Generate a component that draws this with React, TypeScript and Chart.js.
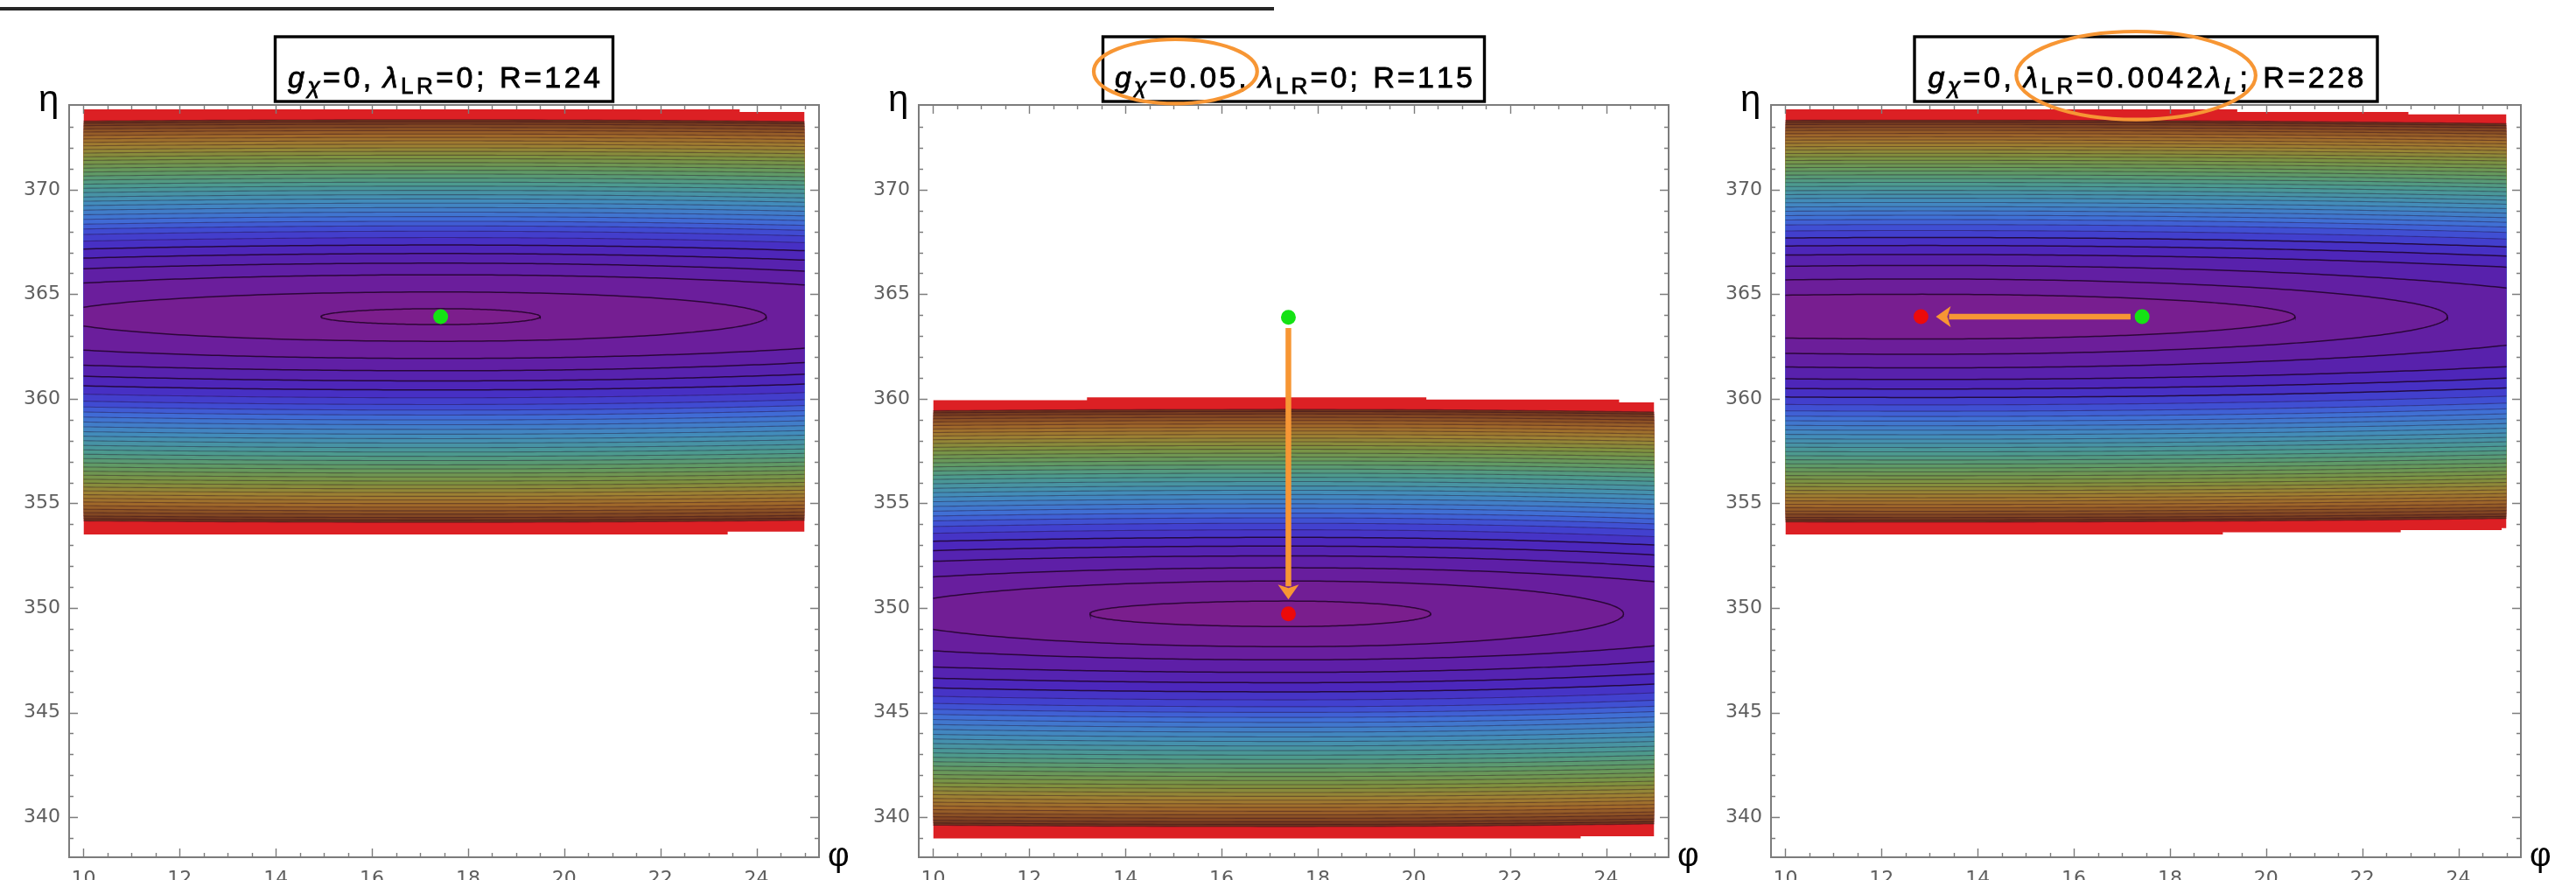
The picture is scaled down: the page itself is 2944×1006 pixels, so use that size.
import React, { useEffect, useRef } from "react";
import { Chart, registerables } from "chart.js";
Chart.register(...registerables);

// ---------------- axes ----------------
const PHI_MIN = 9.7;
const PHI_MAX = 25.3;
const ETA_MIN = 338.08;
const ETA_MAX = 374.05;
const PHI_DOMAIN = [10, 25];
const X_TICKS = [10, 12, 14, 16, 18, 20, 22, 24];
const Y_TICKS = [340, 345, 350, 355, 360, 365, 370];
const X_MINOR_STEP = 0.5;
const Y_MINOR_STEP = 1;

// ---------------- panel data ----------------
const CENTER_PHI = [17.43, 17.39, 12.82];
const CENTER_ETA = [363.93, 349.72, 363.93];
// innermost contour offsets in eta (closed / nearly closed ones)
const INNER_R = [
  [0.38, 1.18, 2.0],
  [0.61, 1.57, 2.2],
  [1.07, 1.8, 2.45],
];
const INNER_TIP_RIGHT = [
  [19.5, 24.2, 29.0],
  [20.35, 24.36, 28.0],
  [20.6, 23.77, 27.5],
];
const INNER_TIP_LEFT = [
  [14.94, 9.4, 5.0],
  [13.26, 9.0, 5.0],
  [3.0, 0.0, -2.0],
];
const STIFF_RIGHT = [0.032, 0.045, 0.022];
const STIFF_LEFT = [0.0235, 0.025, 0.022];
// offset of the last (outermost) contour line above / below the centre
const OUTER_UP = [9.42, 9.78, 9.4];
const OUTER_DOWN = [9.84, 10.18, 9.83];
// positions of the remaining contour lines, as fraction between last inner and outermost contour
const OUTER_FRAC = [
  0.075, 0.137, 0.192, 0.24, 0.281, 0.315, 0.345, 0.375, 0.404, 0.433, 0.462, 0.489,
  0.516, 0.544, 0.571, 0.597, 0.623, 0.649, 0.674, 0.699, 0.723, 0.748, 0.771, 0.795,
  0.818, 0.841, 0.863, 0.885, 0.907, 0.929, 0.949, 0.97, 0.986, 1.0,
];
// outer edge of the plotted region (red band outer boundary)
const EDGE_TOP = [
  [[10, 373.84], [23.65, 373.84], [23.65, 373.72], [25, 373.72]],
  [[10, 359.93], [13.2, 359.93], [13.2, 360.07], [20.26, 360.07], [20.26, 359.97], [24.27, 359.97], [24.27, 359.83], [25, 359.83]],
  [[10, 373.84], [19.4, 373.84], [19.4, 373.72], [22.96, 373.72], [22.96, 373.6], [25, 373.6]],
];
const EDGE_BOTTOM = [
  [[10, 353.51], [23.4, 353.51], [23.4, 353.65], [25, 353.65]],
  [[10, 338.98], [23.47, 338.98], [23.47, 339.08], [25, 339.08]],
  [[10, 353.51], [19.1, 353.51], [19.1, 353.62], [22.8, 353.62], [22.8, 353.72], [24.9, 353.72], [24.9, 353.82], [25, 353.82]],
];
const GREEN_DOTS = [[17.43, 363.93], [17.39, 363.9], [17.42, 363.93]];
const RED_DOTS: (number[] | null)[] = [null, [17.39, 349.72], [12.82, 363.93]];
const ARROWS: (number[][] | null)[] = [
  null,
  [[17.39, 363.38], [17.39, 350.41]],
  [[17.18, 363.93], [13.13, 363.93]],
];

type Seg = { t: string; it?: boolean; sub?: boolean; gap?: number };
const TITLE_1: Seg[] = [
  { t: "g", it: true }, { t: "χ", it: true, sub: true }, { t: "=0," }, { t: "", gap: 10 },
  { t: "λ", it: true }, { t: "LR", sub: true }, { t: "=0;" }, { t: "", gap: 14 }, { t: "R=124" },
];
const TITLE_2: Seg[] = [
  { t: "g", it: true }, { t: "χ", it: true, sub: true }, { t: "=0.05," }, { t: "", gap: 10 },
  { t: "λ", it: true }, { t: "LR", sub: true }, { t: "=0;" }, { t: "", gap: 14 }, { t: "R=115" },
];
const TITLE_3: Seg[] = [
  { t: "g", it: true }, { t: "χ", it: true, sub: true }, { t: "=0," }, { t: "", gap: 10 },
  { t: "λ", it: true }, { t: "LR", sub: true }, { t: "=0.0042" }, { t: "λ", it: true }, { t: "L", it: true, sub: true },
  { t: ";" }, { t: "", gap: 14 }, { t: "R=228" },
];
const TITLES = [TITLE_1, TITLE_2, TITLE_3];
// which title segments are circled in orange
const HIGHLIGHT: ({ from: number; to: number; cy: number; ry: number; padX: number; dx: number } | null)[] = [
  null,
  { from: 0, to: 2, cy: 81.7, ry: 36.7, padX: 18, dx: -6 },
  { from: 4, to: 8, cy: 86.3, ry: 50.3, padX: 15, dx: 7 },
];

// ---------------- styling ----------------
const CANVAS_LEFT = [0, 972, 1944];
const CANVAS_W = 1000;
const CANVAS_H = 1040;
const FRAME_LEFT = [79, 78, 80];
const FRAME_W = 857;
const FRAME_TOP = 120;
const FRAME_BOTTOM = 980;
const BOX_W = [386, 436, 529];
const TEXT_W = [357, 409, 498];
const BOX_TOP = 42;
const BOX_BOTTOM = 116;
const TITLE_BASE = 100;
const MAIN_SIZE = 34;
const SUB_SIZE = 26;
const FRAME_COLOR = "#7c7c7c";
const TICK_LABEL_COLOR = "#5e5e5e";
const INNER_LINE_COLOR = "rgba(25, 0, 30, 0.78)";
const INNER_LINE_W = 1.5;
const LINE_COLOR = "rgba(28, 0, 28, 0.36)";
const LINE_W = 1.1;
const RED_BAND = "rgb(220, 32, 36)";
const GREEN = "rgb(20, 226, 20)";
const RED = "rgb(236, 10, 10)";
const ORANGE = "rgb(247, 150, 52)";
const COLOR_STOPS: [number, number[]][] = [
  [0.0, [126, 30, 138]],
  [0.08, [117, 30, 146]],
  [0.19, [104, 30, 158]],
  [0.28, [90, 32, 170]],
  [0.36, [74, 40, 190]],
  [0.44, [64, 70, 210]],
  [0.5, [64, 110, 214]],
  [0.585, [66, 140, 188]],
  [0.675, [76, 154, 142]],
  [0.74, [98, 154, 98]],
  [0.81, [126, 146, 64]],
  [0.87, [158, 128, 50]],
  [0.92, [160, 104, 42]],
  [0.975, [126, 66, 34]],
  [1.0, [106, 46, 28]],
];

function bandColor(t: number) {
  if (t <= COLOR_STOPS[0][0]) return `rgb(${COLOR_STOPS[0][1].join(",")})`;
  for (let i = 1; i < COLOR_STOPS.length; i++) {
    const [t1, c1] = COLOR_STOPS[i];
    const [t0, c0] = COLOR_STOPS[i - 1];
    if (t <= t1) {
      const f = (t - t0) / (t1 - t0);
      const c = c0.map((v, k) => Math.round(v + (c1[k] - v) * f));
      return `rgb(${c.join(",")})`;
    }
  }
  return `rgb(${COLOR_STOPS[COLOR_STOPS.length - 1][1].join(",")})`;
}

type Contour = { up: number; dn: number; aR: number; aL: number; inner: boolean };

function buildContours(p: number): Contour[] {
  const phi0 = CENTER_PHI[p];
  const inner = INNER_R[p];
  const lastIn = inner[inner.length - 1];
  const list: Contour[] = [];
  inner.forEach((r, i) => {
    list.push({ up: r, dn: r, aR: INNER_TIP_RIGHT[p][i] - phi0, aL: phi0 - INNER_TIP_LEFT[p][i], inner: true });
  });
  OUTER_FRAC.forEach((f) => {
    const up = lastIn + f * (OUTER_UP[p] - lastIn);
    const dn = lastIn + f * (OUTER_DOWN[p] - lastIn);
    const rm = (up + dn) / 2;
    list.push({ up, dn, aR: rm / Math.sqrt(STIFF_RIGHT[p]), aL: rm / Math.sqrt(STIFF_LEFT[p]), inner: f < 0.2 });
  });
  return list;
}

function sampleContour(phi0: number, eta0: number, c: Contour) {
  const sMin = Math.max(-1, (PHI_DOMAIN[0] - phi0) / c.aL);
  const sMax = Math.min(1, (PHI_DOMAIN[1] - phi0) / c.aR);
  const th0 = Math.acos(sMin);
  const th1 = Math.acos(sMax);
  const N = 120;
  const upper: { x: number; y: number }[] = [];
  const lower: { x: number; y: number }[] = [];
  for (let i = 0; i <= N; i++) {
    const th = th0 + ((th1 - th0) * i) / N;
    const s = Math.cos(th);
    let phi = phi0 + (s < 0 ? c.aL : c.aR) * s;
    phi = Math.min(PHI_DOMAIN[1], Math.max(PHI_DOMAIN[0], phi));
    const sn = Math.sin(th);
    upper.push({ x: phi, y: eta0 + c.up * sn });
    lower.push({ x: phi, y: eta0 - c.dn * sn });
  }
  return { upper, lower };
}

function makePlugins(p: number) {
  const frame = {
    id: "frameTicks",
    afterDatasetsDraw(chart: any) {
      const { ctx, chartArea: a, scales } = chart;
      const x = scales.x;
      const y = scales.y;
      ctx.save();
      // arrows
      const arr = ARROWS[p];
      if (arr) {
        const x0 = x.getPixelForValue(arr[0][0]);
        const y0 = y.getPixelForValue(arr[0][1]);
        const x1 = x.getPixelForValue(arr[1][0]);
        const y1 = y.getPixelForValue(arr[1][1]);
        const len = Math.hypot(x1 - x0, y1 - y0);
        const ux = (x1 - x0) / len;
        const uy = (y1 - y0) / len;
        const headL = 17;
        const headW = 24;
        const bx = x1 - ux * headL;
        const by = y1 - uy * headL;
        ctx.strokeStyle = ORANGE;
        ctx.lineWidth = 6.5;
        ctx.lineCap = "butt";
        ctx.beginPath();
        ctx.moveTo(x0, y0);
        ctx.lineTo(bx + ux * 2, by + uy * 2);
        ctx.stroke();
        ctx.fillStyle = ORANGE;
        ctx.beginPath();
        ctx.moveTo(x1, y1);
        ctx.lineTo(bx - uy * headW / 2, by + ux * headW / 2);
        ctx.lineTo(bx + ux * 4, by + uy * 4);
        ctx.lineTo(bx + uy * headW / 2, by - ux * headW / 2);
        ctx.closePath();
        ctx.fill();
      }
      // frame
      ctx.strokeStyle = FRAME_COLOR;
      ctx.lineWidth = 2;
      ctx.strokeRect(a.left, a.top, a.right - a.left, a.bottom - a.top);
      ctx.lineWidth = 1.4;
      ctx.beginPath();
      for (let v = PHI_DOMAIN[0]; v <= PHI_DOMAIN[1] + 1e-6; v += X_MINOR_STEP) {
        const px = Math.round(x.getPixelForValue(v)) + 0.5;
        const major = X_TICKS.some((t) => Math.abs(t - v) < 1e-6);
        const l = major ? 10 : 5;
        ctx.moveTo(px, a.bottom);
        ctx.lineTo(px, a.bottom - l);
        ctx.moveTo(px, a.top);
        ctx.lineTo(px, a.top + l);
      }
      for (let v = Math.ceil(ETA_MIN); v < ETA_MAX - 0.2; v += Y_MINOR_STEP) {
        const py = Math.round(y.getPixelForValue(v)) + 0.5;
        const major = Y_TICKS.some((t) => Math.abs(t - v) < 1e-6);
        const l = major ? 10 : 5;
        ctx.moveTo(a.left, py);
        ctx.lineTo(a.left + l, py);
        ctx.moveTo(a.right, py);
        ctx.lineTo(a.right - l, py);
      }
      ctx.stroke();
      ctx.restore();
    },
  };

  const title = {
    id: "titleBox",
    afterDraw(chart: any) {
      const { ctx, chartArea: a } = chart;
      ctx.save();
      const cx = (a.left + a.right) / 2;
      const bw = BOX_W[p];
      // box
      ctx.fillStyle = "#ffffff";
      ctx.fillRect(cx - bw / 2, BOX_TOP, bw, BOX_BOTTOM - BOX_TOP);
      ctx.strokeStyle = "#000";
      ctx.lineWidth = 3.4;
      ctx.strokeRect(cx - bw / 2, BOX_TOP, bw, BOX_BOTTOM - BOX_TOP);
      // text
      const segs = TITLES[p];
      const fontOf = (s: Seg) =>
        `${s.it ? "italic " : ""}${s.sub ? SUB_SIZE : MAIN_SIZE}px "Liberation Sans", Arial, sans-serif`;
      let natural = 0;
      let gaps = 0;
      let n = 0;
      segs.forEach((s) => {
        if (s.gap) {
          gaps += s.gap;
          return;
        }
        ctx.font = fontOf(s);
        for (const ch of s.t) {
          natural += ctx.measureText(ch).width;
          n++;
        }
      });
      const extra = (TEXT_W[p] - natural - gaps) / Math.max(1, n - 1);
      let tx = cx - TEXT_W[p] / 2;
      const spans: number[][] = [];
      ctx.fillStyle = "#000";
      ctx.strokeStyle = "#000";
      ctx.lineWidth = 0.8;
      ctx.textBaseline = "alphabetic";
      ctx.textAlign = "left";
      segs.forEach((s, i) => {
        const start = tx;
        if (s.gap) {
          tx += s.gap;
        } else {
          ctx.font = fontOf(s);
          for (const ch of s.t) {
            const yy = TITLE_BASE + (s.sub ? 7 : 0);
            ctx.fillText(ch, tx, yy);
            ctx.strokeText(ch, tx, yy);
            tx += ctx.measureText(ch).width + extra;
          }
        }
        spans[i] = [start, tx - (s.gap ? 0 : extra)];
      });
      // highlight ellipse
      const h = HIGHLIGHT[p];
      if (h) {
        const x0 = spans[h.from][0];
        const x1 = spans[h.to][1];
        ctx.strokeStyle = ORANGE;
        ctx.lineWidth = 4.2;
        ctx.beginPath();
        ctx.ellipse((x0 + x1) / 2 + h.dx, h.cy, (x1 - x0) / 2 + h.padX, h.ry, 0, 0, Math.PI * 2);
        ctx.stroke();
      }
      // axis letters
      ctx.fillStyle = "#000";
      ctx.font = '42px "Liberation Sans", Arial, sans-serif';
      ctx.fillText("η", a.left - 35, 127);
      ctx.font = '38px "Liberation Sans", Arial, sans-serif';
      ctx.fillText("φ", a.right + 10, 990);
      ctx.restore();
    },
  };
  return [frame, title];
}

function buildConfig(p: number): any {
  const phi0 = CENTER_PHI[p];
  const eta0 = CENTER_ETA[p];
  const datasets: any[] = [];
  const dots: { pt: number[]; c: string }[] = [{ pt: GREEN_DOTS[p], c: GREEN }];
  const rd = RED_DOTS[p];
  if (rd) dots.push({ pt: rd, c: RED });
  dots.forEach((d) =>
    datasets.push({
      data: [{ x: d.pt[0], y: d.pt[1] }],
      showLine: false,
      pointRadius: 8.5,
      pointBackgroundColor: d.c,
      pointBorderWidth: 0,
      pointBorderColor: d.c,
      fill: false,
    })
  );
  let prev = 0;
  buildContours(p).forEach((c) => {
    const t = (prev + c.up) / 2 / OUTER_UP[p];
    prev = c.up;
    const { upper, lower } = sampleContour(phi0, eta0, c);
    const lc = c.inner ? INNER_LINE_COLOR : LINE_COLOR;
    const lw = c.inner ? INNER_LINE_W : LINE_W;
    datasets.push({
      data: upper,
      fill: "+1",
      backgroundColor: bandColor(t),
      borderColor: lc,
      borderWidth: lw,
      pointRadius: 0,
    });
    datasets.push({
      data: lower,
      fill: false,
      borderColor: lc,
      borderWidth: lw,
      pointRadius: 0,
    });
  });
  datasets.push({
    data: EDGE_TOP[p].map(([x, y]) => ({ x, y })),
    fill: "+1",
    backgroundColor: RED_BAND,
    borderColor: "rgba(0,0,0,0)",
    borderWidth: 0,
    pointRadius: 0,
  });
  datasets.push({
    data: EDGE_BOTTOM[p].map(([x, y]) => ({ x, y })),
    fill: false,
    borderColor: "rgba(0,0,0,0)",
    borderWidth: 0,
    pointRadius: 0,
  });

  const frameLeft = FRAME_LEFT[p];
  const padRight = CANVAS_W - (frameLeft + FRAME_W);
  return {
    type: "line",
    data: { datasets },
    options: {
      animation: false,
      responsive: false,
      devicePixelRatio: 1,
      events: [],
      layout: { padding: { left: 0, right: padRight, top: FRAME_TOP, bottom: 0 } },
      elements: { line: { tension: 0 }, point: { radius: 0 } },
      scales: {
        x: {
          type: "linear",
          min: PHI_MIN,
          max: PHI_MAX,
          afterFit: (s: any) => {
            s.height = CANVAS_H - FRAME_BOTTOM;
          },
          afterBuildTicks: (axis: any) => {
            axis.ticks = X_TICKS.map((v) => ({ value: v }));
          },
          grid: { display: false, drawTicks: false },
          border: { display: false },
          ticks: {
            autoSkip: false,
            maxRotation: 0,
            padding: 12,
            color: TICK_LABEL_COLOR,
            font: { family: '"DejaVu Sans", sans-serif', size: 22 },
          },
        },
        y: {
          type: "linear",
          min: ETA_MIN,
          max: ETA_MAX,
          afterFit: (s: any) => {
            s.width = frameLeft;
          },
          afterBuildTicks: (axis: any) => {
            axis.ticks = Y_TICKS.map((v) => ({ value: v }));
          },
          grid: { display: false, drawTicks: false },
          border: { display: false },
          ticks: {
            autoSkip: false,
            padding: 10,
            color: TICK_LABEL_COLOR,
            font: { family: '"DejaVu Sans", sans-serif', size: 22 },
          },
        },
      },
      plugins: {
        legend: { display: false },
        tooltip: { enabled: false },
        title: { display: false },
        filler: { drawTime: "beforeDatasetsDraw", propagate: false },
      },
    },
    plugins: makePlugins(p),
  };
}

export default function App() {
  const r0 = useRef<HTMLCanvasElement>(null);
  const r1 = useRef<HTMLCanvasElement>(null);
  const r2 = useRef<HTMLCanvasElement>(null);
  useEffect(() => {
    const refs = [r0, r1, r2];
    const charts = refs.map((r, p) => new Chart(r.current as HTMLCanvasElement, buildConfig(p)));
    return () => charts.forEach((c) => c.destroy());
  }, []);
  const refs = [r0, r1, r2];
  return (
    <div
      style={{
        position: "absolute",
        left: 0,
        top: 0,
        width: 2944,
        height: 1006,
        overflow: "hidden",
        background: "#fff",
      }}
    >
      <div style={{ position: "absolute", left: 0, top: 8, width: 1456, height: 3.5, background: "#262626" }} />
      {refs.map((r, p) => (
        <canvas
          key={p}
          ref={r}
          width={CANVAS_W}
          height={CANVAS_H}
          style={{ position: "absolute", left: CANVAS_LEFT[p], top: 0, width: CANVAS_W, height: CANVAS_H }}
        />
      ))}
    </div>
  );
}
